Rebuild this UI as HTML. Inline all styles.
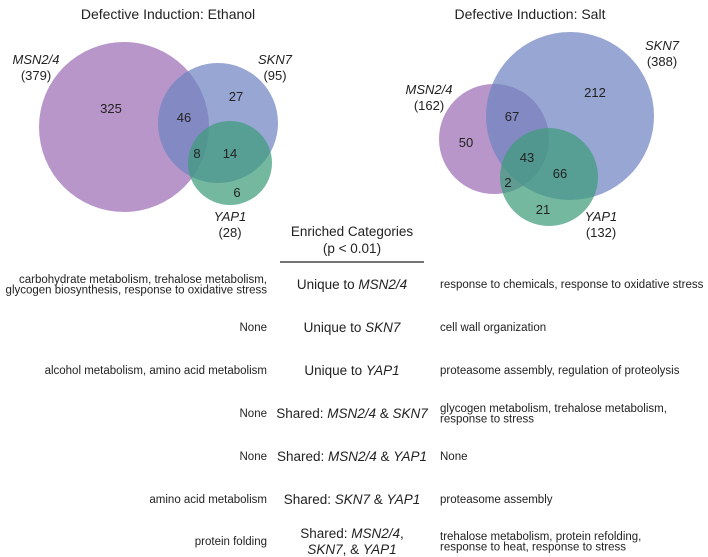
<!DOCTYPE html>
<html><head><meta charset="utf-8"><style>
body{margin:0;background:#fff;overflow:hidden}
svg{display:block;font-family:"Liberation Sans",Arial,sans-serif}
</style></head><body>
<svg width="708" height="557" viewBox="0 0 708 557" xmlns="http://www.w3.org/2000/svg">
<g id="venns"></g>
<g id="table"></g>
</svg>
<script>
const setNames = ["MSN2/4","SKN7","YAP1"];
const ethanolTotals = [379,95,28];
const ethanolRegions = [325,27,6,46,8,14];
const saltTotals = [162,388,132];
const saltRegions = [50,212,21,67,2,66,43];
const NS="http://www.w3.org/2000/svg";
const colors=["#9d6db6","#6f83c0","#3f9d7b"];
function el(tag,attrs,parent,text){const e=document.createElementNS(NS,tag);for(const k in attrs)e.setAttribute(k,attrs[k]);if(text!==undefined)e.textContent=text;parent.appendChild(e);return e;}
const root=document.getElementById('venns');
function drawVenn(title,tx,totals,circ,labels,regions,regPos,name){
  const g=el('g',{},root);
  
  
  const t=el('text',{x:tx,y:19,'text-anchor':'middle','font-size':14,fill:'#222'},g,title);
  
  
  circ.forEach((c,i)=>{
    const r=c.k*Math.sqrt(totals[i]);
    const ci=el('circle',{cx:c.x,cy:c.y,r:r,fill:colors[i],'fill-opacity':0.72},g);
    
    
  });
  labels.forEach((l,i)=>{
    const a=el('text',{x:l[0],y:l[1],'text-anchor':'middle','font-size':13,'font-style':'italic',fill:'#222'},g,setNames[i]);
    
    
    const b=el('text',{x:l[0],y:l[1]+16,'text-anchor':'middle','font-size':13,fill:'#222'},g,'('+totals[i]+')');
    
    
  });
  regions.forEach((v,i)=>{
    const n=el('text',{x:regPos[i][0],y:regPos[i][1]+5,'text-anchor':'middle','font-size':13,fill:'#222'},g,v);
    
    
  });
}
drawVenn('Defective Induction: Ethanol',168,ethanolTotals,
  [{x:124,y:127,k:85/Math.sqrt(379)},{x:218,y:123,k:60/Math.sqrt(95)},{x:230,y:163,k:42/Math.sqrt(28)}],
  [[36,64],[275,64],[230,221]],ethanolRegions,
  [[111,108],[236,96],[237,192],[184,117],[197,153],[230,153]],'ethanol-venn');
drawVenn('Defective Induction: Salt',530,saltTotals,
  [{x:494,y:139,k:55/Math.sqrt(162)},{x:570,y:116,k:84/Math.sqrt(388)},{x:549,y:177,k:49/Math.sqrt(132)}],
  [[429,94],[662,50],[601,221]],saltRegions,
  [[466,142],[595,92],[543,209],[512,116],[508,182],[560,173],[527,157]],'salt-venn');

const rowCenter=[["Unique to ",["MSN2/4"]],["Unique to ",["SKN7"]],["Unique to ",["YAP1"]],
 ["Shared: ",["MSN2/4"]," & ",["SKN7"]],["Shared: ",["MSN2/4"]," & ",["YAP1"]],["Shared: ",["SKN7"]," & ",["YAP1"]],["Shared: ",["MSN2/4"],","]];
const leftText=[["carbohydrate metabolism, trehalose metabolism,","glycogen biosynthesis, response to oxidative stress"],["None"],["alcohol metabolism, amino acid metabolism"],["None"],["None"],["amino acid metabolism"],["protein folding"]];
const rightText=[["response to chemicals, response to oxidative stress"],["cell wall organization"],["proteasome assembly, regulation of proteolysis"],["glycogen metabolism, trehalose metabolism,","response to stress"],["None"],["proteasome assembly"],["trehalose metabolism, protein refolding,","response to heat, response to stress"]];
const tbl=document.getElementById('table');
const h1=el('text',{x:352,y:236,'text-anchor':'middle','font-size':13.5,fill:'#222'},tbl,'Enriched Categories');


const h2=el('text',{x:352,y:253,'text-anchor':'middle','font-size':13.5,fill:'#222'},tbl,'(p < 0.01)');


const ln=el('line',{x1:280,x2:424,y1:262,y2:262,stroke:'#222','stroke-width':1.2},tbl);


const ys=[284,327,370,413,456,499,541];
function multi(lines,x,y,anchor,name){
  const n=lines.length, lh=10.5;
  lines.forEach((s,i)=>{
    const t=el('text',{x:x,y:y+4+(i-(n-1)/2)*lh,'text-anchor':anchor,'font-size':11.5,fill:'#222'},tbl,s);
    
    
  });
}
ys.forEach((y,i)=>{
  multi(leftText[i],267,y,'end','ethanol-category');
  multi(rightText[i],440,y,'start','salt-category');
  const parts=rowCenter[i];
  const mkLine=(ps,yy)=>{
    const t=el('text',{x:352,y:yy,'text-anchor':'middle','font-size':13.5,fill:'#222'},tbl);
    
    
    ps.forEach(p=>{el('tspan',Array.isArray(p)?{'font-style':'italic'}:{},t,Array.isArray(p)?p[0]:p);});
  };
  if(i<6) mkLine(parts,y+5);
  else { mkLine(parts,y-3); mkLine([["SKN7"],", & ",["YAP1"]],y+13); }
});
</script>
</body></html>
